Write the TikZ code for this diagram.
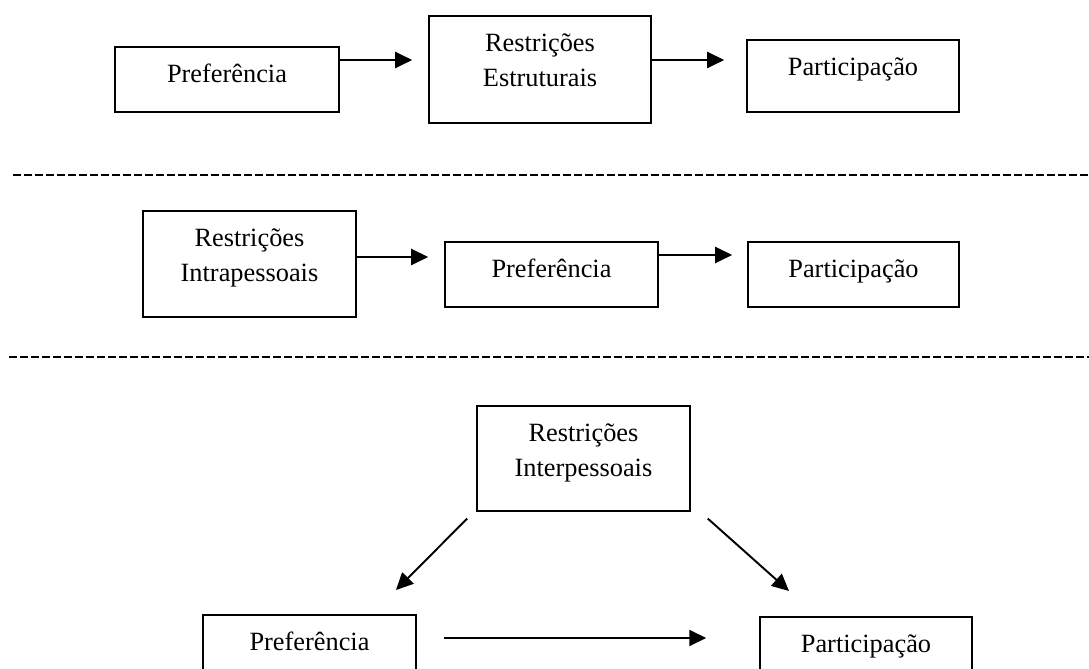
\documentclass[tikz,border=0pt]{standalone}
\usepackage{fontspec}
\setmainfont{Liberation Serif}
\usetikzlibrary{arrows.meta}

\begin{document}
\begin{tikzpicture}[x=0.02cm, y=-0.02cm,
        box/.style={draw, line width=0.9pt, anchor=north, align=center, inner sep=0pt,
            text height=0.72cm, font=\fontsize{15}{19.9}\selectfont},
        twolines/.style={box, text height=1.42cm},
        arr/.style={-{Triangle[length=0.34cm,width=0.32cm]}, line width=1.1pt},
        sep/.style={line width=1.1pt, dash pattern=on 0.16cm off 0.06cm}]
        \useasboundingbox (0, 0) rectangle (1089, 669);

        % First model
        \node[box, minimum width=4.48cm, text depth=0.58cm] (pref1) at (227, 46) {Preferência};
        \node[twolines, minimum width=4.44cm, text depth=0.72cm] (estr) at (540, 15) {Restrições\\Estruturais};
        \node[box, minimum width=4.24cm, text depth=0.72cm] (part1) at (853, 39) {Participação};
        \coordinate (r1) at ([yshift=-0.28cm]pref1.north east);
        \coordinate (r2) at ([yshift=-0.9cm]estr.north east);
        \draw[arr, shorten >=0.32cm] (r1) -- (r1 -| estr.west);
        \draw[arr, shorten >=0.44cm] (r2) -- (r2 -| part1.west);

        \draw[sep] (13, 175) -- (1089, 175);

        % Second model
        \node[twolines, minimum width=4.26cm, text depth=0.70cm] (intra) at (249.5, 210) {Restrições\\Intrapessoais};
        \node[box, minimum width=4.26cm, text depth=0.58cm] (pref2) at (551.5, 241) {Preferência};
        \node[box, minimum width=4.22cm, text depth=0.58cm] (part2) at (853.5, 241) {Participação};
        \coordinate (s1) at ([yshift=-0.94cm]intra.north east);
        \coordinate (s2) at ([yshift=-0.28cm]pref2.north east);
        \draw[arr, shorten >=0.32cm] (s1) -- (s1 -| pref2.west);
        \draw[arr, shorten >=0.30cm] (s2) -- (s2 -| part2.west);

        \draw[sep] (9, 357) -- (1089, 357);

        % Third model
        \node[twolines, minimum width=4.26cm, text depth=0.68cm] (inter) at (583.5, 405) {Restrições\\Interpessoais};
        \node[box, minimum width=4.26cm, text depth=0.68cm] (pref3) at (309.5, 614) {Preferência};
        \node[box, minimum width=4.24cm, text depth=0.68cm] (part3) at (866, 616) {Participação};
        \draw[arr] ([xshift=-0.18cm, yshift=-0.14cm]inter.south west) -- ([xshift=1.73cm, yshift=0.48cm]pref3.north);
        \draw[arr] ([xshift=0.34cm, yshift=-0.14cm]inter.south east) -- ([xshift=-1.54cm, yshift=0.5cm]part3.north);
        \coordinate (t1) at ([xshift=0.54cm, yshift=-0.48cm]pref3.north east);
        \draw[arr, shorten >=1.06cm] (t1) -- (t1 -| part3.west);
    \end{tikzpicture}
\end{document}
